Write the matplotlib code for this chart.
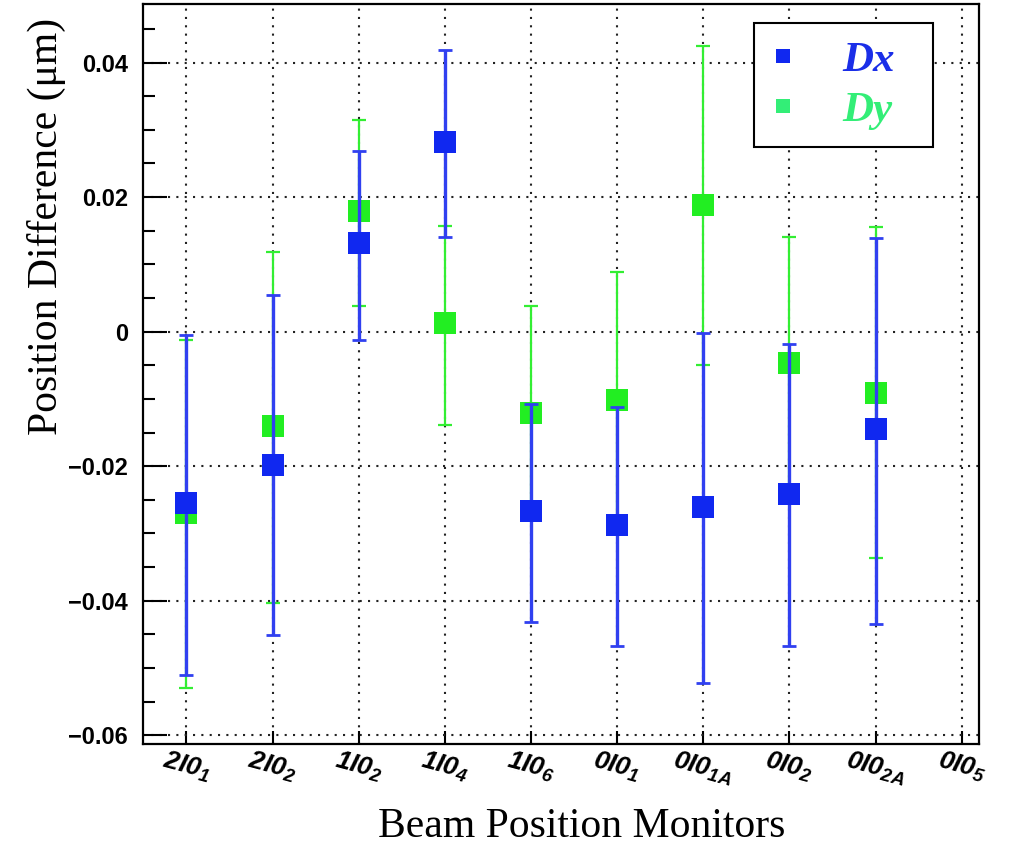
import numpy as np
import matplotlib
matplotlib.use("Agg")
import matplotlib.pyplot as plt
from matplotlib.lines import Line2D
from matplotlib.ticker import MultipleLocator

# beam position monitors (x axis)
bpm_labels = ["2I0$_{1}$", "2I0$_{2}$", "1I0$_{2}$", "1I0$_{4}$", "1I0$_{6}$",
              "0I0$_{1}$", "0I0$_{1A}$", "0I0$_{2}$", "0I0$_{2A}$", "0I0$_{5}$"]

# Dx: value, top and bottom of the error bar
dx = np.array([-0.0255, -0.0198, 0.0132, 0.0282, -0.0267, -0.0287, -0.0260, -0.0241, -0.0145])
dx_hi = np.array([-0.0005, 0.0054, 0.0268, 0.0418, -0.0108, -0.0112, -0.0002, -0.0018, 0.0139])
dx_lo = np.array([-0.0511, -0.0451, -0.0012, 0.0141, -0.0431, -0.0468, -0.0522, -0.0468, -0.0435])

# Dy: value, top and bottom of the error bar
dy = np.array([-0.0269, -0.0141, 0.0179, 0.0013, -0.0121, -0.0102, 0.0188, -0.0046, -0.0091])
dy_hi = np.array([-0.0012, 0.0118, 0.0315, 0.0157, 0.0038, 0.0088, 0.0424, 0.0140, 0.0155])
dy_lo = np.array([-0.0530, -0.0404, 0.0038, -0.0139, -0.0280, -0.0292, -0.0049, -0.0232, -0.0337])

ytick_vals = [-0.06, -0.04, -0.02, 0, 0.02, 0.04]
ytick_labels = ["\u22120.06", "\u22120.04", "\u22120.02", "0", "0.02", "0.04"]

plt.rcParams["mathtext.fontset"] = "custom"
plt.rcParams["mathtext.rm"] = "Liberation Sans:bold:italic"
plt.rcParams["mathtext.it"] = "Liberation Sans:bold:italic"

x = np.arange(len(bpm_labels))
xd = x[:len(dx)]

fig = plt.figure(figsize=(10.26, 8.46), dpi=100)
ax = fig.add_axes([0.1397, 0.1206, 0.8145, 0.8747])

blue = "#1028f0"
green = "#22ee22"

# Dy first, Dx drawn on top
ax.errorbar(xd, dy, yerr=[dy - dy_lo, dy_hi - dy], fmt="none", ecolor="#33ee33",
            elinewidth=1.6, capsize=5, capthick=1.6, zorder=3)
ax.plot(xd, dy, "s", color=green, ms=16, mew=0, zorder=3.5)
ax.errorbar(xd, dx, yerr=[dx - dx_lo, dx_hi - dx], fmt="none", ecolor="#3040f0",
            elinewidth=2.4, capsize=5, capthick=2.0, zorder=4)
ax.plot(xd, dx, "s", color=blue, ms=16.5, mew=0, zorder=4.5)

ax.set_xlim(-0.5, 9.2)
ax.set_ylim(-0.0613, 0.0487)

ax.set_xticks(x)
ax.set_xticklabels(bpm_labels, rotation=-15, ha="center", fontsize=19,
                   fontweight="bold", fontstyle="italic", fontfamily="Liberation Sans")
ax.set_yticks(ytick_vals)
ax.set_yticklabels(ytick_labels, fontsize=17, fontweight="bold", fontfamily="Liberation Sans")
ax.yaxis.set_minor_locator(MultipleLocator(0.005))

ax.tick_params(axis="y", which="major", direction="in", length=17, width=1.5, pad=11, right=False)
ax.tick_params(axis="y", which="minor", direction="in", length=8.5, width=1.5, right=False)
ax.tick_params(axis="x", which="major", direction="in", length=9.5, width=1.5, pad=3, top=False)

ax.set_axisbelow(True)
ax.grid(True, which="major", color="#222222", linestyle=(0, (1, 3)), linewidth=1.5)
for s in ax.spines.values():
    s.set_linewidth(1.6)

ax.set_xlabel("Beam Position Monitors", fontsize=30, fontfamily="Liberation Serif")
ax.set_ylabel("Position Difference (\u03bcm)", fontsize=30, fontfamily="Liberation Serif")
ax.xaxis.set_label_coords(0.525, -0.0865)
ax.yaxis.set_label_coords(-0.0925, 0.699)

handles = [Line2D([], [], ls="none", marker="s", ms=9.5, mew=0, color=blue),
           Line2D([], [], ls="none", marker="s", ms=9.5, mew=0, color="#33ee77")]
leg = ax.legend(handles, ["Dx", "Dy"], loc="upper left",
                bbox_to_anchor=(0.731, 0.807, 0.214, 0.167), mode="expand",
                prop=dict(family="Liberation Serif", weight="bold", style="italic", size=31),
                borderpad=0.4, handlelength=0.55, handletextpad=1.1, labelspacing=0.26,
                fancybox=False, framealpha=1, edgecolor="black", borderaxespad=0)
leg.get_frame().set_linewidth(1.5)
for t, c in zip(leg.get_texts(), ["#1a2ee8", "#33ee77"]):
    t.set_color(c)

fig.savefig("out.png", dpi=100)
